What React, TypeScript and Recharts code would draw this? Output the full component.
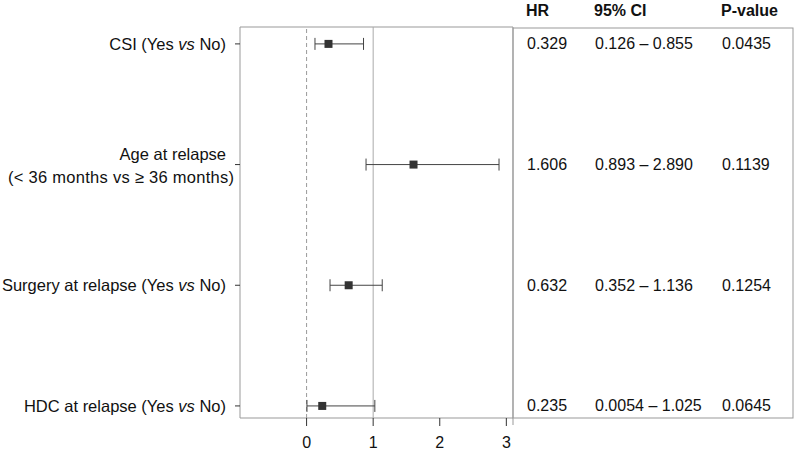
import React from 'react';
import {
  ComposedChart,
  Scatter,
  XAxis,
  YAxis,
  ErrorBar,
  ReferenceLine,
  ReferenceArea,
} from 'recharts';

// ---- data ----
const rowIds = [1, 2, 3, 4];
const labelPre = ['CSI (Yes ', 'Age at relapse', 'Surgery at relapse (Yes ', 'HDC at relapse (Yes '];
const labelVs = ['vs', '', 'vs', 'vs'];
const labelPost = [' No)', '', ' No)', ' No)'];
const labelSecondLine = ['', '(< 36 months vs \u2265 36 months)', '', ''];
const hrValues = [0.329, 1.606, 0.632, 0.235];
const ciLow = [0.126, 0.893, 0.352, 0.0054];
const ciHigh = [0.855, 2.89, 1.136, 1.025];
const hrText = ['0.329', '1.606', '0.632', '0.235'];
const ciText = ['0.126 \u2013 0.855', '0.893 \u2013 2.890', '0.352 \u2013 1.136', '0.0054 \u2013 1.025'];
const pText = ['0.0435', '0.1139', '0.1254', '0.0645'];
const tableHeaders = ['HR', '95% CI', 'P-value'];
const xTicks = [0, 1, 2, 3];
const xDomain: [number, number] = [-1, 3.1];
const yDomain: [number, number] = [0.86, 4.1];

const data = rowIds.map((r, i) => ({
  row: r,
  hr: hrValues[i],
  err: [hrValues[i] - ciLow[i], ciHigh[i] - hrValues[i]],
}));

const FONT = '"Liberation Sans", Arial, Helvetica, sans-serif';
const FS = 16;
const LFS = 16.5;
const colX = [14, 82, 209];

const LeftTick = (props: any) => {
  const { x, y, payload } = props;
  const i = rowIds.indexOf(payload.value);
  if (i < 0) return null;
  if (labelSecondLine[i]) {
    return (
      <g>
        <text x={x} y={y - 11} textAnchor="end" dominantBaseline="central" fontSize={LFS} fontFamily={FONT} fill="#111">
          {labelPre[i]}
        </text>
        <text
          x={x + 8}
          y={y + 12}
          textAnchor="end"
          dominantBaseline="central"
          fontSize={LFS}
          fontFamily={FONT}
          fill="#111"
          textLength={226}
          lengthAdjust="spacing"
        >
          {labelSecondLine[i]}
        </text>
      </g>
    );
  }
  return (
    <text x={x} y={y} textAnchor="end" dominantBaseline="central" fontSize={LFS} fontFamily={FONT} fill="#111">
      <tspan>{labelPre[i]}</tspan>
      <tspan fontStyle="italic">{labelVs[i]}</tspan>
      <tspan>{labelPost[i]}</tspan>
    </text>
  );
};

const RightTick = (props: any) => {
  const { x, y, payload } = props;
  const i = rowIds.indexOf(payload.value);
  if (i < 0) return null;
  const vals = [hrText[i], ciText[i], pText[i]];
  return (
    <g>
      {vals.map((v, k) => (
        <text key={k} x={x + colX[k]} y={y} textAnchor="start" dominantBaseline="central" fontSize={FS} fontFamily={FONT} fill="#111">
          {v}
        </text>
      ))}
    </g>
  );
};

const Square = (props: any) => {
  const { cx, cy } = props;
  return <rect x={cx - 4} y={cy - 4} width={8} height={8} fill="#333" />;
};

export default function App() {
  return (
    <div style={{ position: 'absolute', left: 0, top: 0, width: 800, height: 452, background: '#fff' }}>
      <ComposedChart
        width={800}
        height={452}
        margin={{ top: 27, right: 0, bottom: 0, left: 0 }}
        style={{ fontFamily: FONT }}
      >
        <XAxis
          type="number"
          dataKey="hr"
          domain={xDomain}
          ticks={xTicks}
          allowDataOverflow
          height={34}
          tickSize={8}
          tickMargin={11}
          axisLine={false}
          tickLine={{ stroke: '#333' }}
          tick={{ fontSize: FS, fill: '#111', fontFamily: FONT }}
        />
        <YAxis
          yAxisId="left"
          type="number"
          dataKey="row"
          domain={yDomain}
          ticks={rowIds}
          reversed
          allowDataOverflow
          width={240}
          tickSize={5}
          tickMargin={9}
          axisLine={false}
          tickLine={{ stroke: '#333' }}
          tick={<LeftTick />}
        />
        <YAxis
          yAxisId="right"
          orientation="right"
          type="number"
          domain={yDomain}
          ticks={rowIds}
          reversed
          allowDataOverflow
          width={287}
          tickSize={0}
          tickMargin={0}
          axisLine={false}
          tickLine={false}
          tick={<RightTick />}
        />
        <ReferenceArea
          yAxisId="left"
          x1={xDomain[0]}
          x2={xDomain[1]}
          y1={yDomain[0]}
          y2={yDomain[1]}
          fill="none"
          fillOpacity={0}
          stroke="#999"
          strokeWidth={1}
        />
        <ReferenceLine yAxisId="left" x={0} stroke="#999" strokeDasharray="4 3" />
        <ReferenceLine yAxisId="left" x={1} stroke="#aaa" />
        <Scatter yAxisId="left" data={data} dataKey="row" shape={<Square />} isAnimationActive={false}>
          <ErrorBar dataKey="err" direction="x" width={6} stroke="#444" strokeWidth={1} isAnimationActive={false} />
        </Scatter>
        <rect x={513} y={28} width={280} height={390} fill="none" stroke="#999" />
        <line x1={513} y1={418} x2={513} y2={425} stroke="#999" />
        {tableHeaders.map((h, k) => (
          <text key={h} x={513 + colX[k] - 1} y={10} dominantBaseline="central" fontSize={FS} fontWeight="bold" fontFamily={FONT} fill="#111">
            {h}
          </text>
        ))}
      </ComposedChart>
    </div>
  );
}
